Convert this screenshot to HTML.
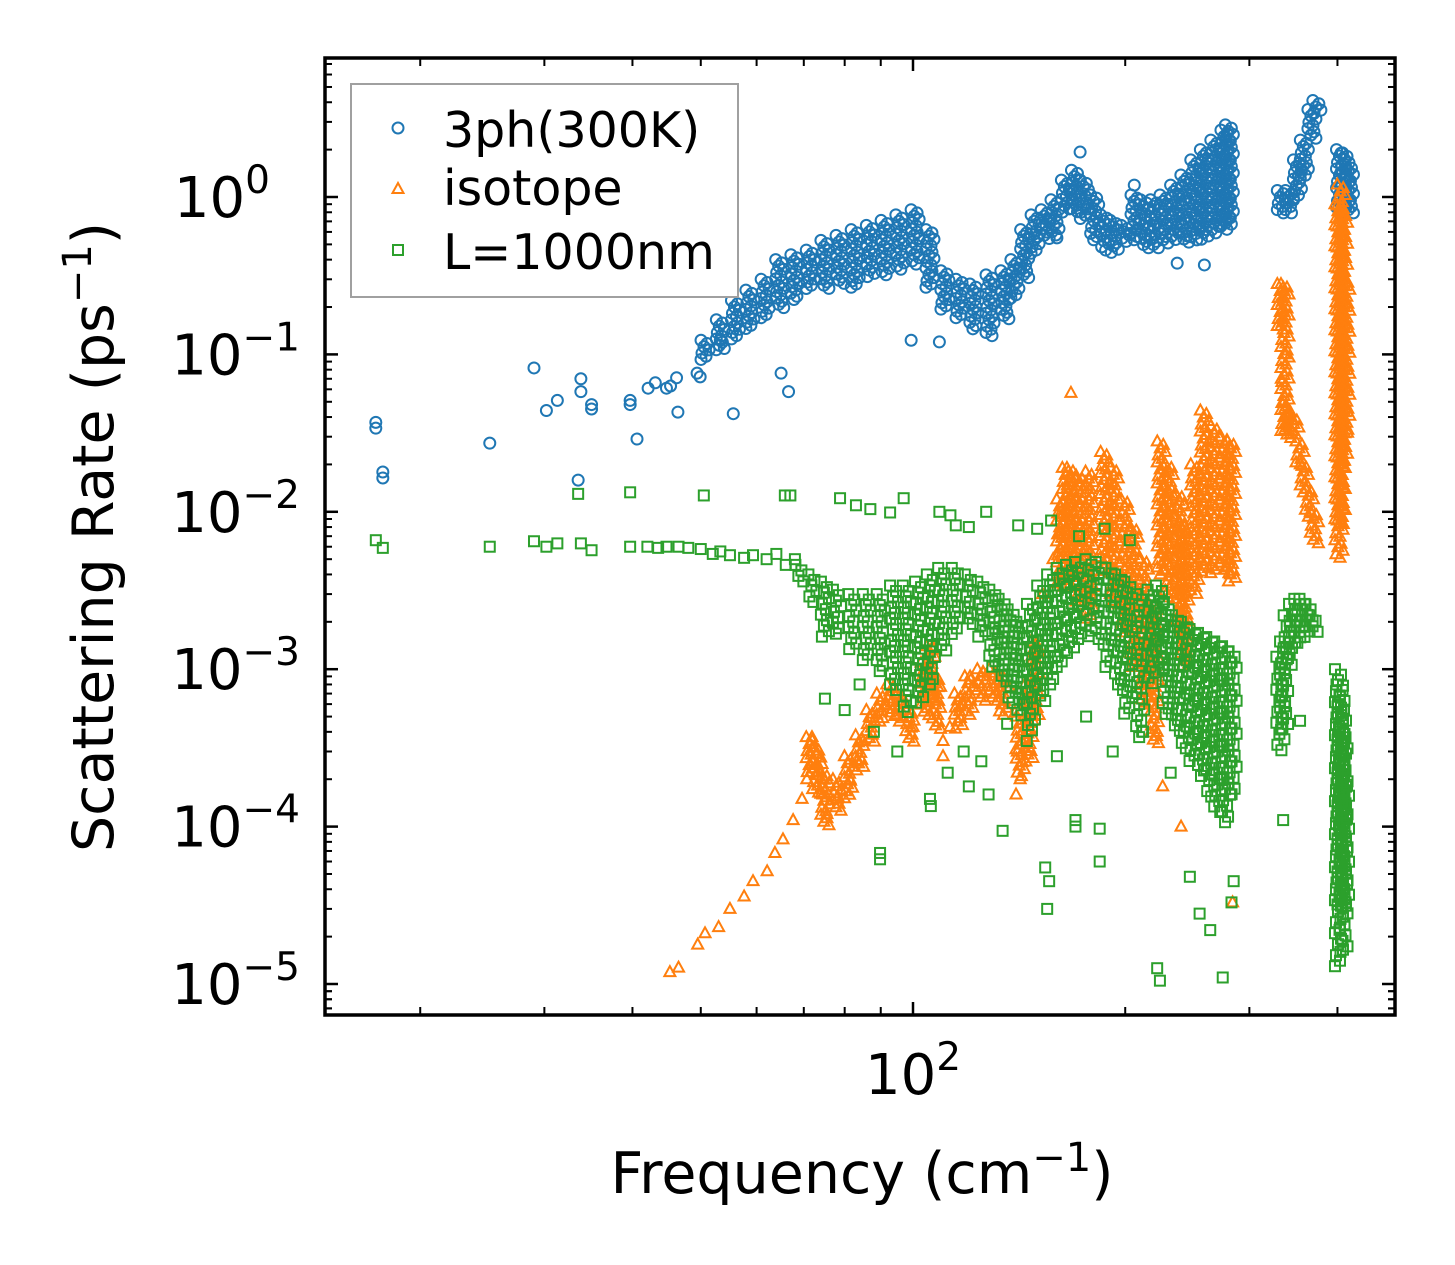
<!DOCTYPE html>
<html><head><meta charset="utf-8"><style>
html,body{margin:0;padding:0;background:#fff;}
svg{display:block;font-family:"DejaVu Sans","Liberation Sans",sans-serif;}
</style></head><body>
<svg id="chart" width="1455" height="1265" viewBox="0 0 1455 1265" xmlns="http://www.w3.org/2000/svg">
<g id="marks"></g>
<g id="axes"></g>
<text x="862" y="1193" font-size="57" text-anchor="middle">Frequency (cm<tspan dy="-22" font-size="40">−1</tspan><tspan dy="22">)</tspan></text>
<text transform="translate(113,537) rotate(-90)" font-size="57" text-anchor="middle">Scattering Rate (ps<tspan dy="-22" font-size="40">−1</tspan><tspan dy="22">)</tspan></text>
<g>
<rect x="351" y="84" width="387" height="213" fill="#fff" stroke="#a0a0a0" stroke-width="2"/>
<circle cx="398" cy="128" r="5.5" fill="none" stroke="#1f77b4" stroke-width="2"/>
<polygon points="398,183 392.5,193 403.5,193" fill="none" stroke="#ff7f0e" stroke-width="2"/>
<rect x="393" y="245" width="10" height="10" fill="none" stroke="#2ca02c" stroke-width="2"/>
<text x="443" y="147" font-size="49">3ph(300K)</text>
<text x="443" y="205" font-size="49">isotope</text>
<text x="443" y="269" font-size="49">L=1000nm</text>
</g>
</svg>
<script>
// ---- data ----
const blueF=[17.3,17.3,17.7,17.7,25.1,29,30.2,31.3,33.8,33.8,35,35,33.5,39.7,39.7,40.6,42.1,43.1,44.7,45.3,46.2,46.4,49.4,49.9,52.6,53.3,55.6,65,66.6,99.4,109,259,237,172.6,206,160,150];
const blueV=[0.037,0.034,0.0179,0.0164,0.0273,0.082,0.044,0.051,0.070,0.058,0.048,0.045,0.0159,0.048,0.051,0.029,0.061,0.066,0.061,0.063,0.071,0.043,0.076,0.072,0.107,0.123,0.042,0.076,0.058,0.123,0.12,0.37,0.38,1.93,1.19,0.55,0.56];
const blueBandF=[50.7,53.3,56,58.7,61.7,64.7,68,71.5,75,78.8,82.8,87,91.3,95.8,100.7,105.7,111,116.6,122,128.6,135,139.5,144,149,154,159,164.5,170,175,181,187,193,200,206.5,213,220,227,235,243,251,259,268,277,281,333,342,351,359,368,374,404,410,416];
const blueBandLo=[0.092,0.107,0.123,0.143,0.166,0.19,0.22,0.256,0.26,0.28,0.26,0.3,0.32,0.34,0.37,0.26,0.19,0.166,0.14,0.13,0.166,0.22,0.3,0.43,0.53,0.57,0.77,0.77,0.71,0.53,0.46,0.43,0.5,0.53,0.46,0.46,0.5,0.53,0.5,0.53,0.53,0.57,0.62,0.66,0.77,0.77,0.96,1.28,2.3,3.3,0.77,0.8,0.77];
const blueBandHi=[0.123,0.166,0.22,0.256,0.3,0.4,0.43,0.46,0.53,0.57,0.62,0.66,0.71,0.77,0.83,0.62,0.34,0.3,0.28,0.32,0.34,0.4,0.62,0.77,0.83,0.96,1.28,1.48,1.28,1.03,0.77,0.71,0.66,1.03,0.96,0.96,1.03,1.19,1.38,1.72,2.0,2.3,2.66,2.87,1.1,1.1,1.72,2.3,3.6,4.1,2.0,1.9,1.6];

const orangeF=[45.2,46.5,49.5,50.7,53,55,57.6,59.3,62.1,63.7,65.4,67.6,69.6,70.7,71.9,73.1,74.3,74.5,75.5,78,81.4,83.3,85,87,89.8,93.7,96.8,100,104.7,106.7,108.5,110.3,110.3,112.8,116.6,120.5,125.7,134,137,139.5,140,141.9,140,146,148,149.5,152.7,158,161.7,165.5,167.5,240,222,226,284,333,336,338];
const orangeV=[1.19e-5,1.27e-5,1.78e-5,2.1e-5,2.3e-5,3.0e-5,3.6e-5,4.5e-5,5.2e-5,6.8e-5,8.3e-5,1.1e-4,1.5e-4,2.0e-4,3.7e-4,2.9e-4,2.5e-4,1.6e-4,1.2e-4,1.5e-4,2.0e-4,2.6e-4,3.5e-4,4.9e-4,6.3e-4,7.7e-4,6.3e-4,4.3e-4,1.03e-3,1.4e-3,7.7e-4,3.5e-4,2.8e-4,4.3e-4,5.8e-4,9e-4,9.6e-4,9e-4,7.7e-4,5.3e-4,3.1e-4,2.0e-4,1.6e-4,3.2e-4,4.7e-4,1.45e-3,3.0e-3,5.0e-3,7.3e-3,1.0e-2,0.057,1.0e-4,4.0e-4,1.8e-4,3.3e-5,0.07,0.05,0.1];
const orangeBandF=[71.5,73,75,78,81,84,87,90,93,96,99,104,106,108,116,120,125,130,134,142,146,149,162,165,167.5,172.6,178,187,193,200,206,213,220,225,231,239,243,251,259,268,277,283,333,337,341,348,354,359,365,371,402,405,408,411];
const orangeBandLo=[2.2e-4,1.6e-4,1.0e-4,1.2e-4,1.5e-4,2.2e-4,3.3e-4,4.5e-4,5e-4,4.5e-4,3.3e-4,5e-4,6e-4,4e-4,4e-4,5e-4,6e-4,6e-4,5e-4,2e-4,2.5e-4,5e-4,3.2e-3,3.5e-3,4e-3,2.5e-3,2e-3,4e-3,2.5e-3,1.7e-3,1.0e-3,6e-4,3.3e-4,4e-3,2.8e-3,1.7e-3,1.0e-3,3e-3,4e-3,4e-3,4e-3,3.5e-3,0.14,0.03,0.03,0.028,0.019,0.013,0.009,0.006,0.005,0.008,0.02,0.03];
const orangeBandHi=[3.7e-4,3.2e-4,2.2e-4,2.0e-4,2.8e-4,3.8e-4,5.5e-4,7e-4,8e-4,7e-4,5.5e-4,1.1e-3,1.4e-3,9e-4,7e-4,9e-4,1.0e-3,1.0e-3,9e-4,5e-4,8e-4,1.5e-3,0.012,0.019,0.019,0.017,0.018,0.024,0.019,0.012,0.008,0.005,0.0025,0.028,0.02,0.013,0.008,0.02,0.044,0.035,0.03,0.028,0.28,0.28,0.045,0.04,0.028,0.02,0.014,0.01,0.9,1.2,0.8,0.3];

const greenF=[17.3,17.7,25.1,29,30.2,31.3,33.5,33.8,35,39.7,39.7,42,43.5,44.7,46.5,48,50,52,53.3,55,57.6,59.3,62,64,66,68,50.5,65.8,67,78.8,83,87,92.8,97,109,113,115,120,127,141,150,157,172,187,203,89.8,89.8,105.7,106,120,128,134,154,156,155,170,170,184,184,222,224,247,255,264,275,283,285,335,354,75,80,84,88,95,112,118,125,136,145,160,176,192,212,232];
const greenV=[6.6e-3,5.9e-3,6.0e-3,6.5e-3,6.0e-3,6.3e-3,1.3e-2,6.3e-3,5.7e-3,1.33e-2,6e-3,6e-3,5.9e-3,6e-3,6e-3,5.9e-3,5.8e-3,5.4e-3,5.6e-3,5.3e-3,5.1e-3,5.3e-3,5.0e-3,5.4e-3,4.6e-3,5.0e-3,1.27e-2,1.27e-2,1.27e-2,1.22e-2,1.1e-2,1.04e-2,9.9e-3,1.22e-2,1.0e-2,9.5e-3,8.2e-3,8.0e-3,1.0e-2,8.2e-3,7.8e-3,8.8e-3,7.0e-3,7.8e-3,6.6e-3,6.8e-5,6.2e-5,1.5e-4,1.35e-4,1.8e-4,1.6e-4,9.4e-5,5.5e-5,4.5e-5,3e-5,1.1e-4,1.0e-4,9.7e-5,6e-5,1.26e-5,1.05e-5,4.8e-5,2.8e-5,2.2e-5,1.1e-5,3.3e-5,4.5e-5,1.1e-4,4.7e-4,6.5e-4,5.5e-4,8e-4,4e-4,3e-4,2.2e-4,3e-4,2.6e-4,4.5e-4,3.5e-4,2.8e-4,5e-4,3e-4,4e-4,2.2e-4];
const greenBandF=[69,72,75,78,82,86,90,94,98,102,106,110,115,120,125,130,134,138,142,147,152,157,162,167,172,178,184,190,196,202,210,218,224,229,236,243,250,257,264,271,278,284,332,336,340,346,352,358,364,370,402,404,406,408,410];
const greenBandLo=[3.6e-3,2.5e-3,1.6e-3,1.6e-3,1.3e-3,1.1e-3,9e-4,7e-4,5e-4,6e-4,8e-4,1.3e-3,1.6e-3,1.8e-3,1.6e-3,1.0e-3,8e-4,6e-4,5e-4,4e-4,6e-4,8e-4,1.0e-3,1.2e-3,1.5e-3,1.6e-3,1.4e-3,1.0e-3,7e-4,5e-4,3.5e-4,8e-4,1.0e-3,5e-4,4e-4,3e-4,2.5e-4,2e-4,1.5e-4,1.2e-4,1.0e-4,1.5e-4,3e-4,4e-4,1.0e-3,1.3e-3,1.4e-3,1.6e-3,1.6e-3,1.6e-3,1.2e-5,3e-5,1e-4,1.5e-5,3e-5];
const greenBandHi=[4.6e-3,4.0e-3,3.6e-3,3.2e-3,3.0e-3,3.0e-3,3.0e-3,3.4e-3,3.4e-3,3.6e-3,4.0e-3,4.4e-3,4.4e-3,4.0e-3,3.6e-3,3.2e-3,2.8e-3,2.4e-3,2.0e-3,2.6e-3,3.4e-3,4.0e-3,4.4e-3,4.6e-3,4.8e-3,5.0e-3,4.8e-3,4.4e-3,4.0e-3,3.6e-3,3.0e-3,3.2e-3,3.4e-3,2.6e-3,2.2e-3,2.0e-3,1.8e-3,1.7e-3,1.6e-3,1.5e-3,1.4e-3,1.3e-3,1.2e-3,1.5e-3,2.2e-3,2.6e-3,2.8e-3,2.8e-3,2.6e-3,2.2e-3,1.0e-3,8e-4,6e-4,4e-4,2e-4];

const yTickExp=[0,-1,-2,-3,-4,-5];
const xMajor=[100];
const xMinor=[20,30,40,50,60,70,80,90,200,300,400];

// ---- scales ----
const L=325,R=1395,T=58,B=1015;
const X=f=>913+705*Math.log10(f/100);
const Y=v=>197-157.4*Math.log10(v);
const NS="http://www.w3.org/2000/svg";
const marks=document.getElementById('marks');
const axes=document.getElementById('axes');
function mk(tag,parent){const e=document.createElementNS(NS,tag);parent.appendChild(e);return e;}
const C={b:"#1f77b4",o:"#ff7f0e",g:"#2ca02c"};
function marker(kind,x,y,g){
  let e;
  if(kind==='b'){e=mk('circle',g);e.setAttribute('cx',x);e.setAttribute('cy',y);e.setAttribute('r',5.5);}
  else if(kind==='o'){e=mk('polygon',g);e.setAttribute('points',`${x},${y-6} ${x-5.5},${y+4} ${x+5.5},${y+4}`);}
  else {e=mk('rect',g);e.setAttribute('x',x-5);e.setAttribute('y',y-5);e.setAttribute('width',10);e.setAttribute('height',10);}
  e.setAttribute('fill','none');e.setAttribute('stroke',C[kind]);e.setAttribute('stroke-width',2);
  return e;
}
function series(kind,name,pf,pv,bf,blo,bhi,step){
  const g=mk('g',marks);
  
  
  for(let i=0;i<pf.length;i++){
    const e=marker(kind,X(pf[i]),Y(pv[i]),g);
    
    
  }
  for(let i=0;i<bf.length;i++){
    const x=X(bf[i]),y1=Y(bhi[i]),y2=Y(blo[i]);
    let k=0;
    for(let y=y1;y<=y2;y+=step){
      const off=[-4,2,-1,4,-3,1][k%6];k++;
      const e=marker(kind,x+off,y,g);
      
      
    }
  }
}
series('b','series-3ph',blueF,blueV,blueBandF,blueBandLo,blueBandHi,3.2);
series('o','series-isotope',orangeF,orangeV,orangeBandF,orangeBandLo,orangeBandHi,3.5);
series('g','series-boundary',greenF,greenV,greenBandF,greenBandLo,greenBandHi,5.5);

const cp=mk('clipPath',document.getElementById('chart'));cp.id='clip';
const cr=mk('rect',cp);cr.setAttribute('x',L);cr.setAttribute('y',T);cr.setAttribute('width',R-L);cr.setAttribute('height',B-T);
marks.setAttribute('clip-path','url(#clip)');

// ---- axes ----
function line(x1,y1,x2,y2,w,name){const e=mk('line',axes);e.setAttribute('x1',x1);e.setAttribute('y1',y1);e.setAttribute('x2',x2);e.setAttribute('y2',y2);e.setAttribute('stroke','#000');e.setAttribute('stroke-width',w);
  
  
  return e;}
for(const ex of yTickExp){
  const y=Y(Math.pow(10,ex));
  line(L,y,L+13,y,2.5,'y-major-tick');line(R-13,y,R,y,2.5,'y-major-tick-right');
  const t=mk('text',axes);t.setAttribute('x',ex===0?270:300);t.setAttribute('y',y+20);t.setAttribute('font-size',56);t.setAttribute('text-anchor','end');
  
  
  t.innerHTML=`10<tspan dy="-24" font-size="39">${ex===0?'0':'−'+(-ex)}</tspan>`;
  for(let m=2;m<=9;m++){
    const yy=Y(m*Math.pow(10,ex-1));
    if(yy>T&&yy<B){line(L,yy,L+7,yy,2,'y-minor-tick');line(R-7,yy,R,yy,2,'y-minor-tick-right');}
  }
}
for(let m=2;m<=9;m++){const yy=Y(m);if(yy>T){line(L,yy,L+7,yy,2,'y-minor-tick');line(R-7,yy,R,yy,2,'y-minor-tick-right');}}
for(let m=7;m<=9;m++){const yy=Y(m*1e-6);if(yy<B){line(L,yy,L+7,yy,2,'y-minor-tick');line(R-7,yy,R,yy,2,'y-minor-tick-right');}}
for(const f of xMajor){const x=X(f);line(x,B,x,B-13,2.5,'x-major-tick');line(x,T,x,T+13,2.5,'x-major-tick-top');
  const t=mk('text',axes);t.setAttribute('x',x);t.setAttribute('y',1094);t.setAttribute('font-size',56);t.setAttribute('text-anchor','middle');
  
  
  t.innerHTML='10<tspan dy="-24" font-size="39">2</tspan>';}
for(const f of xMinor){const x=X(f);line(x,B,x,B-8,2,'x-minor-tick');line(x,T,x,T+8,2,'x-minor-tick-top');}
const fr=mk('rect',axes);fr.setAttribute('x',L);fr.setAttribute('y',T);fr.setAttribute('width',R-L);fr.setAttribute('height',B-T);fr.setAttribute('fill','none');fr.setAttribute('stroke','#000');fr.setAttribute('stroke-width',3.5);


</script>
</body></html>
